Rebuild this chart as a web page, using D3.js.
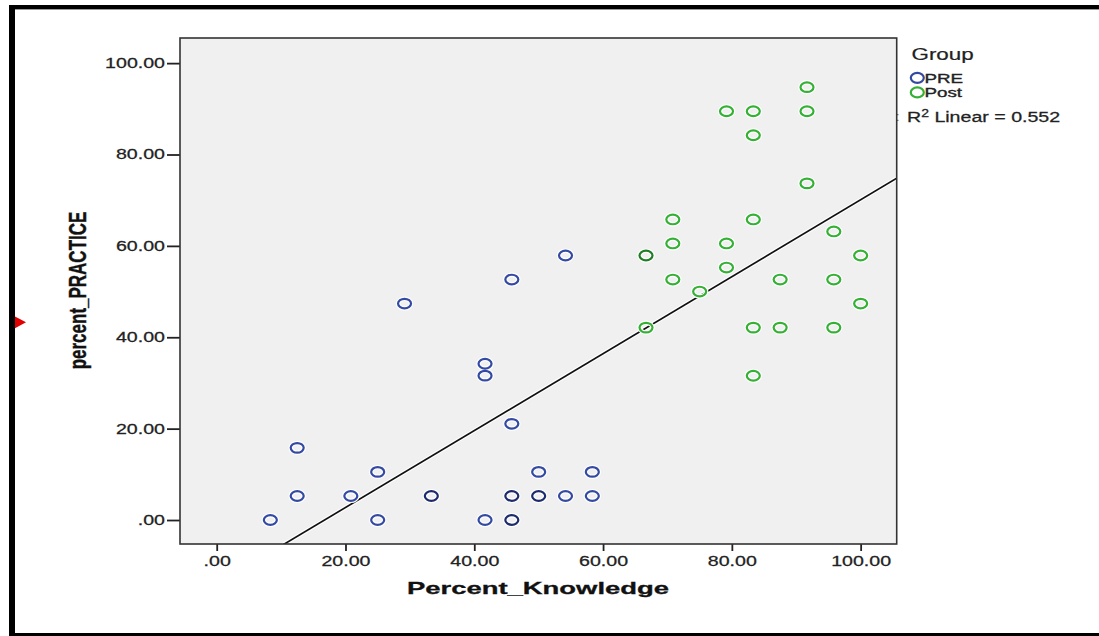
<!DOCTYPE html>
<html>
<head>
<meta charset="utf-8">
<script src="https://cdn.jsdelivr.net/npm/d3@7"></script>
<style>
  body { margin: 0; background: #fff; }
  svg { display: block; font-family: "Liberation Sans", Arial, sans-serif; }
</style>
</head>
<body>
<svg id="chart" width="1099" height="636"></svg>
<script>
// values (duplicates drawn darker, as in the original)
const preKnowledge = [8.33, 12.5, 12.5, 20.83, 25, 25, 29.17, 33.33, 33.33, 41.67, 41.67, 41.67,
  45.83, 45.83, 45.83, 45.83, 45.83, 45.83, 50, 50, 50, 54.17, 54.17, 58.33, 58.33];
const prePractice = [0, 15.79, 5.26, 5.26, 10.53, 0, 47.37, 5.26, 5.26, 34.2, 31.6, 0,
  21.05, 52.63, 5.26, 5.26, 0, 0, 10.53, 5.26, 5.26, 57.89, 5.26, 10.53, 5.26];

const postKnowledge = [91.67, 79.17, 83.33, 91.67, 83.33, 91.67, 70.83, 83.33, 95.83, 70.83, 79.17,
  66.67, 66.67, 100, 79.17, 70.83, 87.5, 95.83, 75, 100, 66.67, 83.33, 87.5, 95.83, 83.33];
const postPractice = [94.74, 89.47, 89.47, 89.47, 84.21, 73.68, 65.79, 65.79, 63.16, 60.53, 60.53,
  57.89, 57.89, 57.89, 55.26, 52.63, 52.63, 52.63, 50, 47.37, 42.11, 42.11, 42.11, 42.11, 31.58];

const groups = ['PRE', 'Post'];
const xTicks = [0, 20, 40, 60, 80, 100];
const yTicks = [0, 20, 40, 60, 80, 100];

// fit line as shown in the chart: R2 Linear = 0.552
const fitIntercept = -14.1;
const fitSlope = 0.842;
const rSquared = '0.552';

const svg = d3.select('#chart');
const plot = { left: 180, right: 896.7, top: 38, bottom: 544 };
const colors = { PRE: '#3349a3', Post: '#34b134' };
const darkColors = { PRE: '#1d2a6b', Post: '#1f7d24' };
const stretch = 1.4;

const x = d3.scaleLinear().domain([-5.7, 105.6]).range([plot.left, plot.right]);
const y = d3.scaleLinear().domain([-5.25, 105.5]).range([plot.bottom, plot.top]);

// outer frame
svg.append('rect').attr('x', 9).attr('y', 5).attr('width', 1090).attr('height', 4).attr('fill', '#000');
svg.append('rect').attr('x', 9).attr('y', 9).attr('width', 1090).attr('height', 1).attr('fill', '#999');
svg.append('rect').attr('x', 9).attr('y', 5).attr('width', 6).attr('height', 631).attr('fill', '#000');
svg.append('rect').attr('x', 9).attr('y', 633).attr('width', 1090).attr('height', 3).attr('fill', '#000');
svg.append('path').attr('d', 'M15,316.5 L26,322.3 L15,328.3 Z').attr('fill', '#e00000');

// plot background
svg.append('rect')
    .attr('x', plot.left).attr('y', plot.top)
    .attr('width', plot.right - plot.left).attr('height', plot.bottom - plot.top)
    .attr('fill', '#f0f0f0');

svg.append('defs').append('clipPath').attr('id', 'clip')
  .append('rect')
    .attr('x', plot.left).attr('y', plot.top)
    .attr('width', plot.right - plot.left).attr('height', plot.bottom - plot.top);

// regression line
const fitX = x.domain();
const fitLine = d3.line().x(d => x(d)).y(d => y(fitIntercept + fitSlope * d));
const lineG = svg.append('g').attr('clip-path', 'url(#clip)');
lineG.append('path').datum(fitX).attr('d', fitLine)
    .attr('fill', 'none').attr('stroke', '#fff').attr('stroke-width', 4);
lineG.append('path').datum(fitX).attr('d', fitLine)
    .attr('fill', 'none').attr('stroke', '#111').attr('stroke-width', 1.7);

// points
function makePoints(group, xs, ys) {
  const counts = d3.rollup(xs.map((v, i) => v + '|' + ys[i]), v => v.length, d => d);
  const seen = new Set();
  const out = [];
  xs.forEach((v, i) => {
    const key = v + '|' + ys[i];
    if (seen.has(key)) return;
    seen.add(key);
    out.push({ group, k: v, p: ys[i], n: counts.get(key) });
  });
  return out;
}
const points = makePoints('PRE', preKnowledge, prePractice)
  .concat(makePoints('Post', postKnowledge, postPractice));

const ptG = svg.append('g');
ptG.selectAll('ellipse.halo')
    .data(points)
  .enter().append('ellipse')
    .attr('class', 'halo')
    .attr('cx', d => x(d.k)).attr('cy', d => y(d.p))
    .attr('rx', 6.5).attr('ry', 4.8)
    .attr('fill', 'none').attr('stroke', '#fff').attr('stroke-width', 4.5);
ptG.selectAll('ellipse.pt')
    .data(points)
  .enter().append('ellipse')
    .attr('class', 'pt')
    .attr('cx', d => x(d.k)).attr('cy', d => y(d.p))
    .attr('rx', 6.5).attr('ry', 4.8)
    .attr('fill', 'none')
    .attr('stroke', d => d.n > 1 ? darkColors[d.group] : colors[d.group])
    .attr('stroke-width', 2.2);

// axes
const fmt = d => d === 0 ? '.00' : d.toFixed(2);
const xAxis = svg.append('g')
    .attr('transform', `translate(0,${plot.bottom})`)
    .call(d3.axisBottom(x).tickValues(xTicks).tickFormat(fmt).tickSize(7).tickSizeOuter(0));
const yAxis = svg.append('g')
    .attr('transform', `translate(${plot.left},0)`)
    .call(d3.axisLeft(y).tickValues(yTicks).tickFormat(fmt).tickSize(13).tickSizeOuter(0));

[xAxis, yAxis].forEach(a => {
  a.select('.domain').remove();
  a.selectAll('line').attr('stroke', '#222').attr('stroke-width', 1.8);
  a.selectAll('text').attr('fill', '#222').attr('stroke', '#222').attr('stroke-width', 0.25)
      .style('font-size', '14px');
});
xAxis.selectAll('text')
    .attr('y', 22).attr('dy', 0)
    .attr('transform', `scale(${stretch},1)`);
yAxis.selectAll('text')
    .attr('x', 0)
    .attr('transform', `translate(-15,0) scale(${stretch},1)`);

// plot border
svg.append('rect')
    .attr('x', plot.left).attr('y', plot.top)
    .attr('width', plot.right - plot.left).attr('height', plot.bottom - plot.top)
    .attr('fill', 'none').attr('stroke', '#333').attr('stroke-width', 1.6);

// axis titles
svg.append('text')
    .attr('x', 538).attr('y', 594)
    .attr('text-anchor', 'middle')
    .attr('textLength', 262).attr('lengthAdjust', 'spacingAndGlyphs')
    .style('font-size', '17px').style('font-weight', 'bold')
    .attr('fill', '#111').attr('stroke', '#111').attr('stroke-width', 0.3)
    .text('Percent_Knowledge');
svg.append('text')
    .attr('transform', `translate(86,290.5) scale(1.45,1) rotate(-90)`)
    .attr('text-anchor', 'middle')
    .style('font-size', '17px').style('font-weight', 'bold')
    .attr('fill', '#111').attr('stroke', '#111').attr('stroke-width', 0.3)
    .text('percent_PRACTICE');

// legend
const leg = svg.append('g');
leg.append('text')
    .attr('transform', `translate(911.5,60) scale(${stretch},1)`)
    .style('font-size', '16px').attr('fill', '#222').attr('stroke', '#222').attr('stroke-width', 0.2)
    .text('Group');
groups.forEach((g, i) => {
  const cy = 77.8 + i * 14.6;
  leg.append('ellipse')
      .attr('cx', 917.3).attr('cy', cy).attr('rx', 6.5).attr('ry', 5)
      .attr('fill', 'none').attr('stroke', colors[g]).attr('stroke-width', 2.2);
  leg.append('text')
      .attr('transform', `translate(924.5,${cy + 4.8}) scale(1.5,1)`)
      .style('font-size', '12.5px').attr('fill', '#222').attr('stroke', '#222').attr('stroke-width', 0.35)
      .text(g);
});
leg.append('text')
    .attr('x', 896).attr('y', 121)
    .style('font-size', '12px').attr('fill', '#444')
    .text(':');
const rt = leg.append('text')
    .attr('transform', `translate(907,122) scale(${stretch},1)`)
    .style('font-size', '14px').attr('fill', '#222').attr('stroke', '#222').attr('stroke-width', 0.25);
rt.append('tspan').text('R');
rt.append('tspan').attr('dy', -5).style('font-size', '10px').text('2');
rt.append('tspan').attr('dy', 5).text(' Linear = ' + rSquared);
</script>
</body>
</html>
